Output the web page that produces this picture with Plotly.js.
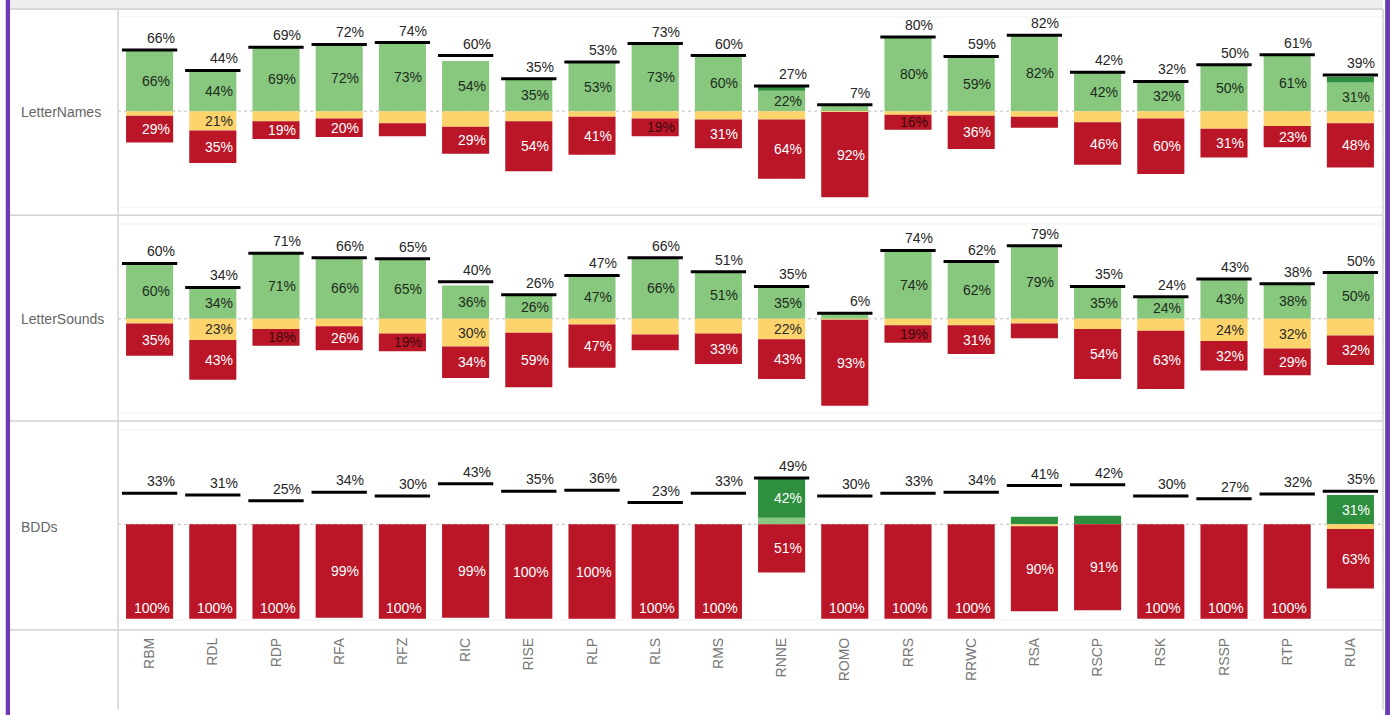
<!DOCTYPE html>
<html><head><meta charset="utf-8">
<script src="https://cdn.plot.ly/plotly-3.0.1.min.js"></script>
<style>html,body{margin:0;padding:0;background:#fff;}#chart{width:1390px;height:715px;}</style>
</head><body><div id="chart"></div>
<script>
// ---------- DATA ----------
const categories = ['RBM','RDL','RDP','RFA','RFZ','RIC','RISE','RLP','RLS','RMS','RNNE','ROMO','RRS','RRWC','RSA','RSCP','RSK','RSSP','RTP','RUA'];
const rowNames = ['LetterNames','LetterSounds','BDDs'];

// LetterNames
const namesLightGreen = [66,44,69,72,73,54,35,53,73,60,22,6,80,59,82,42,32,50,61,31];
const namesDarkGreen  = [0,0,0,0,0,0,0,0,0,0,4,0,0,0,0,0,0,0,0,6];
const namesYellow     = [5,21,11,8,13,17,11,6,8,9,9,1,4,5,6,12,8,19,16,13];
const namesRed        = [29,35,19,20,14,29,54,41,19,31,64,92,16,36,12,46,60,31,23,48];
const namesMarker     = [66,44,69,72,74,60,35,53,73,60,27,7,80,59,82,42,32,50,61,39];

// LetterSounds
const soundsLightGreen = [60,34,71,66,65,36,26,47,66,51,35,5,74,62,79,35,24,43,38,50];
const soundsDarkGreen  = [0,0,0,0,0,0,0,0,0,0,0,0,0,0,0,0,0,0,0,0];
const soundsYellow     = [5,23,11,8,16,30,15,6,17,16,22,1,7,7,5,11,13,24,32,18];
const soundsRed        = [35,43,18,26,19,34,59,47,17,33,43,93,19,31,16,54,63,32,29,32];
const soundsMarker     = [60,34,71,66,65,40,26,47,66,51,35,6,74,62,79,35,24,43,38,50];

// BDDs
const bddLightGreen = [0,0,0,0,0,0,0,0,0,0,7,0,0,0,0,0,0,0,0,0];
const bddDarkGreen  = [0,0,0,0,0,0,0,0,0,0,42,0,0,0,8,9,0,0,0,31];
const bddYellow     = [0,0,0,0,0,0,0,0,0,0,0,0,0,0,2,0,0,0,0,5];
const bddRed        = [100,100,100,99,100,99,100,100,100,100,51,100,100,100,90,91,100,100,100,63];
const bddMarker     = [33,31,25,34,30,43,35,36,23,33,49,30,33,34,41,42,30,27,32,35];

// label visibility / placement (which categories show a label)
const namesGreenHidden  = ['ROMO'];
const namesDarkShown    = [];
const namesYellowShown  = ['RDL'];
const namesRedHidden    = ['RFZ','RSA'];
const namesRedDarkText  = ['RLS','RRS'];

const soundsGreenHidden = ['ROMO'];
const soundsDarkShown   = [];
const soundsYellowShown = ['RDL','RIC','RNNE','RSSP','RTP'];
const soundsRedHidden   = ['RLS','RSA'];
const soundsRedDarkText = ['RDP','RFZ','RRS'];

const bddGreenHidden  = categories.slice();
const bddDarkShown    = ['RNNE','RUA'];
const bddYellowShown  = [];
const bddRedHidden    = [];
const bddRedDarkText  = [];
const bddRedAtBottom  = ['RBM','RDL','RDP','RFZ','RLS','RMS','ROMO','RRS','RRWC','RSK','RSSP','RTP'];

// ---------- STYLE ----------
const C_LIGHT = '#88C87E', C_DARK = '#2E8F3E', C_YELLOW = '#FDD46C', C_RED = '#BA1628';
const FONT = 'Liberation Sans, Arial, sans-serif';
const BAR_W = 0.745;

const rows = [
  {ax:'y',  light:namesLightGreen,  dark:namesDarkGreen,  yellow:namesYellow,  red:namesRed,  mark:namesMarker,
   gHide:namesGreenHidden, dShow:namesDarkShown, yShow:namesYellowShown, rHide:namesRedHidden, rDark:namesRedDarkText, rBottom:[]},
  {ax:'y2', light:soundsLightGreen, dark:soundsDarkGreen, yellow:soundsYellow, red:soundsRed, mark:soundsMarker,
   gHide:soundsGreenHidden, dShow:soundsDarkShown, yShow:soundsYellowShown, rHide:soundsRedHidden, rDark:soundsRedDarkText, rBottom:[]},
  {ax:'y3', light:bddLightGreen,    dark:bddDarkGreen,    yellow:bddYellow,    red:bddRed,    mark:bddMarker,
   gHide:bddGreenHidden, dShow:bddDarkShown, yShow:bddYellowShown, rHide:bddRedHidden, rDark:bddRedDarkText, rBottom:bddRedAtBottom}
];

const traces = [];
const annotations = [];
const shapes = [];

function barTrace(vals, color, ax, sign){
  return {type:'bar', x:categories, y:vals.map(v=>sign*v), yaxis:ax, xaxis:'x',
    width:BAR_W, marker:{color:color, line:{width:0}}, hoverinfo:'skip', showlegend:false};
}
function lbl(cat, y, text, color, ax, opts){
  annotations.push(Object.assign({x:cat, y:y, xref:'x', yref:ax, text:text, showarrow:false,
    xanchor:'right', xshift:22, yanchor:'middle',
    font:{family:FONT, size:14, color:color}}, opts||{}));
}

rows.forEach(r=>{
  traces.push(barTrace(r.light, C_LIGHT, r.ax, 1));
  traces.push(barTrace(r.dark, C_DARK, r.ax, 1));
  traces.push(barTrace(r.yellow, C_YELLOW, r.ax, -1));
  traces.push(barTrace(r.red, C_RED, r.ax, -1));
  traces.push({type:'scatter', mode:'markers', x:categories, y:r.mark, yaxis:r.ax, xaxis:'x',
    marker:{symbol:'line-ew', size:39.5, color:'#000', line:{color:'#000', width:3}},
    hoverinfo:'skip', showlegend:false, cliponaxis:false});
  categories.forEach((c,i)=>{
    lbl(c, r.mark[i], r.mark[i]+'%', '#262626', r.ax, {yanchor:'bottom', yshift:2, xshift:27});
    if (r.light[i]>0 && r.gHide.indexOf(c)<0) lbl(c, r.light[i]/2, r.light[i]+'%', '#1d2b1d', r.ax);
    if (r.dark[i]>0 && r.dShow.indexOf(c)>=0) lbl(c, r.light[i]+r.dark[i]/2, r.dark[i]+'%', '#ffffff', r.ax);
    if (r.yellow[i]>0 && r.yShow.indexOf(c)>=0) lbl(c, -r.yellow[i]/2, r.yellow[i]+'%', '#2a2a2a', r.ax);
    if (r.red[i]>0 && r.rHide.indexOf(c)<0){
      const col = r.rDark.indexOf(c)>=0 ? '#3a0a0c' : '#ffffff';
      if (r.rBottom.indexOf(c)>=0)
        lbl(c, -(r.yellow[i]+r.red[i]), r.red[i]+'%', col, r.ax, {yanchor:'bottom', yshift:1});
      else
        lbl(c, -(r.yellow[i]+r.red[i]/2), r.red[i]+'%', col, r.ax);
    }
  });
  shapes.push({type:'line', xref:'paper', x0:0, x1:1, yref:r.ax, y0:0, y1:0,
    line:{color:'#bdbdbd', width:1, dash:'dot'}, layer:'below'});
});

// row labels
const rowLabelY = [0.8355, 0.5016, 0.1666];
rowNames.forEach((n,i)=>{
  annotations.push({xref:'paper', yref:'paper', x:-0.0783, y:rowLabelY[i], xanchor:'left', yanchor:'middle',
    text:n, showarrow:false, font:{family:FONT, size:14, color:'#666'}});
});

// frame / separators
const X10 = -0.0854, XR = 1.0008;
shapes.push({type:'rect', xref:'paper', yref:'paper', x0:X10, x1:XR, y0:1.0, y1:1.0165, fillcolor:'#efefef', line:{width:0}, layer:'below'});
[1.0016, 0.669, 0.337, 0].forEach(y=>{
  shapes.push({type:'line', xref:'paper', yref:'paper', x0:X10, x1:XR, y0:y, y1:y, line:{color:'#d2d2d2', width:1.5}});
});
[17,207,224,413,430,620].forEach(p=>{
  const y = (630-p)/620;
  shapes.push({type:'line', xref:'paper', yref:'paper', x0:0, x1:XR, y0:y, y1:y, line:{color:'#efefef', width:1}, layer:'below'});
});
shapes.push({type:'line', xref:'paper', yref:'paper', x0:0, x1:0, y0:-0.129, y1:1.0016, line:{color:'#d2d2d2', width:1.5}});
shapes.push({type:'line', xref:'paper', yref:'paper', x0:XR, x1:XR, y0:-0.129, y1:1.0016, line:{color:'#d2d2d2', width:1.5}});
shapes.push({type:'rect', xref:'paper', yref:'paper', x0:-0.0888, x1:-0.0854, y0:-0.2, y1:1.03, fillcolor:'#6a3bb4', line:{width:0}});
shapes.push({type:'rect', xref:'paper', yref:'paper', x0:1.0025, x1:1.0070, y0:-0.2, y1:1.03, fillcolor:'#6a3bb4', line:{width:0}});

const yBase = {showticklabels:false, showgrid:false, zeroline:false, showline:false, fixedrange:true};
const layout = {
  width:1390, height:715,
  margin:{l:118, r:8, t:10, b:85},
  paper_bgcolor:'#ffffff', plot_bgcolor:'rgba(0,0,0,0)',
  barmode:'relative',
  font:{family:FONT, size:14, color:'#333'},
  xaxis:{type:'category', categoryarray:categories, range:[-0.5, 19.5], anchor:'y3',
    tickangle:-90, tickfont:{family:FONT, size:14, color:'#777'}, ticks:'', ticklabelstandoff:4,
    showgrid:false, zeroline:false, showline:false, fixedrange:true},
  yaxis: Object.assign({domain:[0.669,1], range:[-112.4,109.2]}, yBase),
  yaxis2:Object.assign({domain:[0.337,0.669], range:[-110.6,112.1]}, yBase),
  yaxis3:Object.assign({domain:[0,0.337], range:[-111.9,109.3]}, yBase),
  shapes:shapes, annotations:annotations, showlegend:false
};
Plotly.newPlot('chart', traces, layout, {staticPlot:true, displayModeBar:false});
</script></body></html>
